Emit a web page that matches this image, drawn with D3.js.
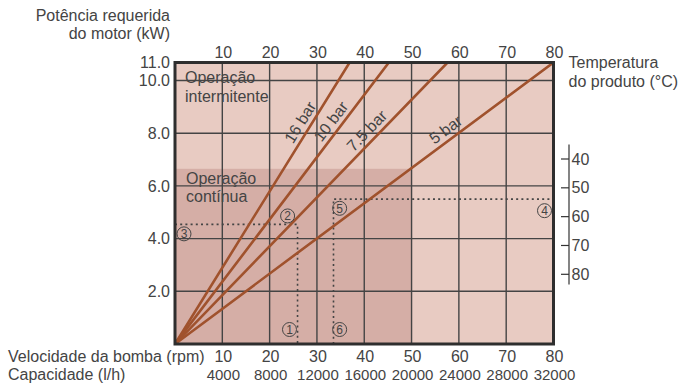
<!DOCTYPE html>
<html><head><meta charset="utf-8">
<script src="https://cdn.jsdelivr.net/npm/d3@7"></script>
<style>
html,body{margin:0;padding:0;background:#fff;}
text{font-family:"Liberation Sans",Arial,Helvetica,sans-serif;fill:#444;}
</style></head>
<body>
<svg id="c" width="680" height="387"></svg>
<script>
// ---- data ----
const rpmTicks = [10,20,30,40,50,60,70,80];
const capacityTicks = [4000,8000,12000,16000,20000,24000,28000,32000];
const topTempTicks = [10,20,30,40,50,60,70,80];
const kwTicks = [2,4,6,8,10,11];
const rightTempTicks = [40,50,60,70,80];
const pressures = ["16 bar","10 bar","7.5 bar","5 bar"];
const lineEndRpm = [36.9, 45.2, 57.6, 80];   // rpm where each line reaches 11 kW (top)
const lineEndKw = [11, 11, 11, 11];
const labelKw = [8.45, 8.45, 8.05, 8.05];
const continuousMaxRpm = 50;
const continuousMaxKw = 6.65;
const exampleA = {rpm: 25.9, kw: 4.54};   // ③ -> ① path
const exampleB = {rpm: 33.5, kw: 5.5};    // ⑥ -> ⑤ -> ④ path
const markers = [
  {n:"1", rpm:24.2, kw:0.55},
  {n:"2", rpm:23.8, kw:4.86},
  {n:"3", rpm:1.9, kw:4.18},
  {n:"4", rpm:78.1, kw:5.06},
  {n:"5", rpm:34.8, kw:5.15},
  {n:"6", rpm:34.8, kw:0.55}
];

// ---- scales ----
const svg = d3.select("#c");
const x = d3.scaleLinear().domain([0,80]).range([175,553.5]);
const xCap = d3.scaleLinear().domain([0,32000]).range([175,553.5]);
const y = d3.scaleLinear().domain([0,10,11]).range([344,80.5,62.5]);
const yT = d3.scaleLinear().domain([40,80]).range([159,274.3]);

const light = "#e8cbc2", dark = "#d5aea6", brown = "#a0522d", gridC = "#444";
const numSize = 15, wordSize = 16;

// backgrounds
svg.append("rect").attr("x",x(0)).attr("y",y(11)).attr("width",x(80)-x(0)).attr("height",y(0)-y(11)).attr("fill",light);
svg.append("rect").attr("x",x(0)).attr("y",y(continuousMaxKw)).attr("width",x(continuousMaxRpm)-x(0)).attr("height",y(0)-y(continuousMaxKw)).attr("fill",dark);

// grid
const g = svg.append("g");
g.selectAll("line.v").data(rpmTicks.filter(d=>d<80)).join("line")
  .attr("x1",d=>x(d)).attr("x2",d=>x(d)).attr("y1",y(0)).attr("y2",y(11))
  .attr("stroke",gridC).attr("stroke-width",1.4);
g.selectAll("line.h").data(kwTicks.filter(d=>d<11)).join("line")
  .attr("x1",x(0)).attr("x2",x(80)).attr("y1",d=>y(d)).attr("y2",d=>y(d))
  .attr("stroke",gridC).attr("stroke-width",1.4);

// dotted example paths
const dot = {stroke:"#444","stroke-width":1.6,"stroke-dasharray":"2,3.2",fill:"none"};
function dpath(pts){
  const p = svg.append("path").attr("d",d3.line().x(d=>x(d[0])).y(d=>y(d[1]))(pts));
  Object.entries(dot).forEach(([k,v])=>p.attr(k,v));
}
dpath([[0,exampleA.kw],[exampleA.rpm,exampleA.kw],[exampleA.rpm,0]]);
dpath([[exampleB.rpm,0],[exampleB.rpm,exampleB.kw],[80,exampleB.kw]]);

// pressure lines
svg.append("clipPath").attr("id","clip").append("rect")
  .attr("x",x(0)).attr("y",y(11)).attr("width",x(80)-x(0)).attr("height",y(0)-y(11));
const lines = svg.append("g").attr("clip-path","url(#clip)");
pressures.forEach((p,i)=>{
  lines.append("line").attr("x1",x(0)).attr("y1",y(0)).attr("x2",x(lineEndRpm[i])).attr("y2",y(lineEndKw[i]))
    .attr("stroke",brown).attr("stroke-width",2.6).attr("stroke-linecap","round");
  const x0=x(0), y0=y(0), x1=x(lineEndRpm[i]), y1=y(lineEndKw[i]);
  const ang = Math.atan2(y1-y0, x1-x0)*180/Math.PI;
  const t = (labelKw[i])/lineEndKw[i];
  const px = x0+(x1-x0)*t, py = y0+(y1-y0)*t;
  svg.append("text").attr("transform",`translate(${px},${py}) rotate(${ang})`)
    .attr("text-anchor","middle").attr("dy",-5).attr("font-size",wordSize).text(p);
});

// markers
const mk = svg.append("g");
markers.forEach(m=>{
  mk.append("circle").attr("cx",x(m.rpm)).attr("cy",y(m.kw)).attr("r",7)
    .attr("fill","none").attr("stroke","#444").attr("stroke-width",1);
  mk.append("text").attr("x",x(m.rpm)).attr("y",y(m.kw)).attr("dy",4.3).attr("text-anchor","middle")
    .attr("font-size",12).text(m.n);
});

// frame
svg.append("rect").attr("x",x(0)).attr("y",y(11)).attr("width",x(80)-x(0)).attr("height",y(0)-y(11))
  .attr("fill","none").attr("stroke","#2e2e2e").attr("stroke-width",3);

// left axis labels
svg.append("g").selectAll("text").data(kwTicks).join("text")
  .attr("x",170).attr("y",d=>y(d)).attr("dy",5.8).attr("text-anchor","end").attr("font-size",wordSize)
  .text(d=>d3.format(".1f")(d));
// top temperature labels
svg.append("g").selectAll("text").data(topTempTicks).join("text")
  .attr("x",d=>x(d)+1).attr("y",57.5).attr("text-anchor","middle").attr("font-size",wordSize).text(d=>d);
// bottom labels
svg.append("g").selectAll("text").data(rpmTicks).join("text")
  .attr("x",d=>x(d)+1).attr("y",361.5).attr("text-anchor","middle").attr("font-size",wordSize).text(d=>d);
svg.append("g").selectAll("text").data(capacityTicks).join("text")
  .attr("x",d=>xCap(d)+1).attr("y",380).attr("text-anchor","middle").attr("font-size",numSize).text(d=>d);

// right temperature axis
const ra = svg.append("g");
ra.append("line").attr("x1",569).attr("x2",569).attr("y1",yT(35)).attr("y2",yT(83.5)).attr("stroke","#333").attr("stroke-width",1.2);
ra.selectAll("line.t").data(rightTempTicks).join("line")
  .attr("x1",561).attr("x2",569).attr("y1",d=>yT(d)).attr("y2",d=>yT(d)).attr("stroke","#333").attr("stroke-width",1.2);
ra.selectAll("text").data(rightTempTicks).join("text")
  .attr("x",571.5).attr("y",d=>yT(d)).attr("dy",5.6).attr("font-size",wordSize).text(d=>d);

// titles
const t = (txt,xx,yy,anchor)=>svg.append("text").attr("x",xx).attr("y",yy).attr("text-anchor",anchor||"start").attr("font-size",wordSize).text(txt);
t("Potência requerida",170,20.5,"end");
t("do motor (kW)",170,39,"end");
t("Temperatura",568.5,68.3);
t("do produto (°C)",568.5,87.3);
t("Velocidade da bomba (rpm)",8,361.5);
t("Capacidade (l/h)",8,380);
t("Operação",185,83.3);
t("intermitente",185,101.7);
t("Operação",186,184);
t("contínua",186,201.7);
</script>
</body></html>
